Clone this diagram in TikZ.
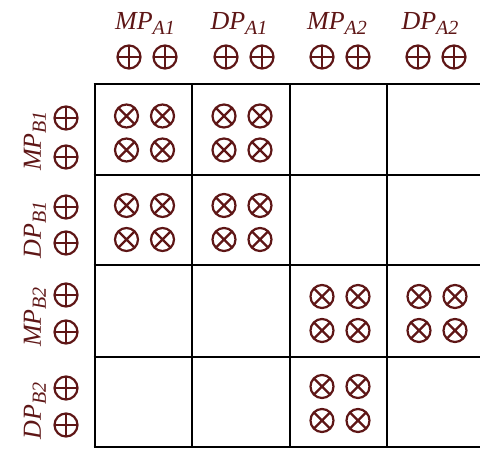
\documentclass[tikz,border=0pt]{standalone}
\usepackage{fontspec}
\setmainfont{Liberation Serif}
\definecolor{maroon}{RGB}{94,22,22}
\newcommand\mylbl[2]{#1\raisebox{-5pt}{\fontsize{20}{20}\selectfont #2}}
\begin{document}
\begin{tikzpicture}[x=1pt,y=-1pt,
 sym/.style={circle,draw=maroon,line width=2.2pt,minimum size=23pt,inner sep=0pt},
 op/.style={sym,path picture={\draw[maroon,line width=2.2pt] (path picture bounding box.north)--(path picture bounding box.south) (path picture bounding box.west)--(path picture bounding box.east);}},
 ot/.style={sym,path picture={\draw[maroon,line width=2.2pt] (path picture bounding box.center) ++(45:12pt) -- ++(225:24pt) (path picture bounding box.center) ++(135:12pt) -- ++(315:24pt);}},
 lab/.style={text=maroon,font=\fontsize{26}{26}\selectfont\itshape,inner sep=0pt,anchor=base},
 gridline/.style={line width=2.8pt,black}]
\useasboundingbox (0,0) rectangle (480,450);
% grid
\foreach \x in {95,192,290,387} \draw[gridline] (\x,84) -- (\x,447);
\foreach \y in {84,175,265,357,447} \draw[gridline] (93.6,\y) -- (484,\y);
% header labels
\node[lab] (hMA1) at (145,29) {\mylbl{MP}{A1}};
\node[lab] (hDA1) at (239,29) {\mylbl{DP}{A1}};
\node[lab] (hMA2) at (337,29) {\mylbl{MP}{A2}};
\node[lab] (hDA2) at (430,29) {\mylbl{DP}{A2}};
% header plus
\foreach \c/\n in {147/a,244/b,340/c,436/d} {
  \node[op] (hp\n1) at (\c-18,57) {};
  \node[op] (hp\n2) at (\c+18,57) {};
}
% side labels
\node[lab,rotate=90] (sMB1) at (41,141) {\mylbl{MP}{B1}};
\node[lab,rotate=90] (sDB1) at (41,230) {\mylbl{DP}{B1}};
\node[lab,rotate=90] (sMB2) at (41,317) {\mylbl{MP}{B2}};
\node[lab,rotate=90] (sDB2) at (41,411) {\mylbl{DP}{B2}};
% side plus
\foreach \y/\n in {118/a1,157/a2,207/b1,243/b2,295/c1,332/c2,388/d1,425/d2}
  \node[op] (sp\n) at (66,\y) {};
% cells with otimes
\foreach \cx/\cy/\n in {144.5/133/r1c1,242/133/r1c2,144.5/222.5/r2c1,242/222.5/r2c2,340/313.5/r3c3,437/313.5/r3c4,340/403.5/r4c3} {
  \node[ot] (\n a) at (\cx-18,\cy-17) {};
  \node[ot] (\n b) at (\cx+18,\cy-17) {};
  \node[ot] (\n c) at (\cx-18,\cy+17) {};
  \node[ot] (\n d) at (\cx+18,\cy+17) {};
}
\end{tikzpicture}
\end{document}
